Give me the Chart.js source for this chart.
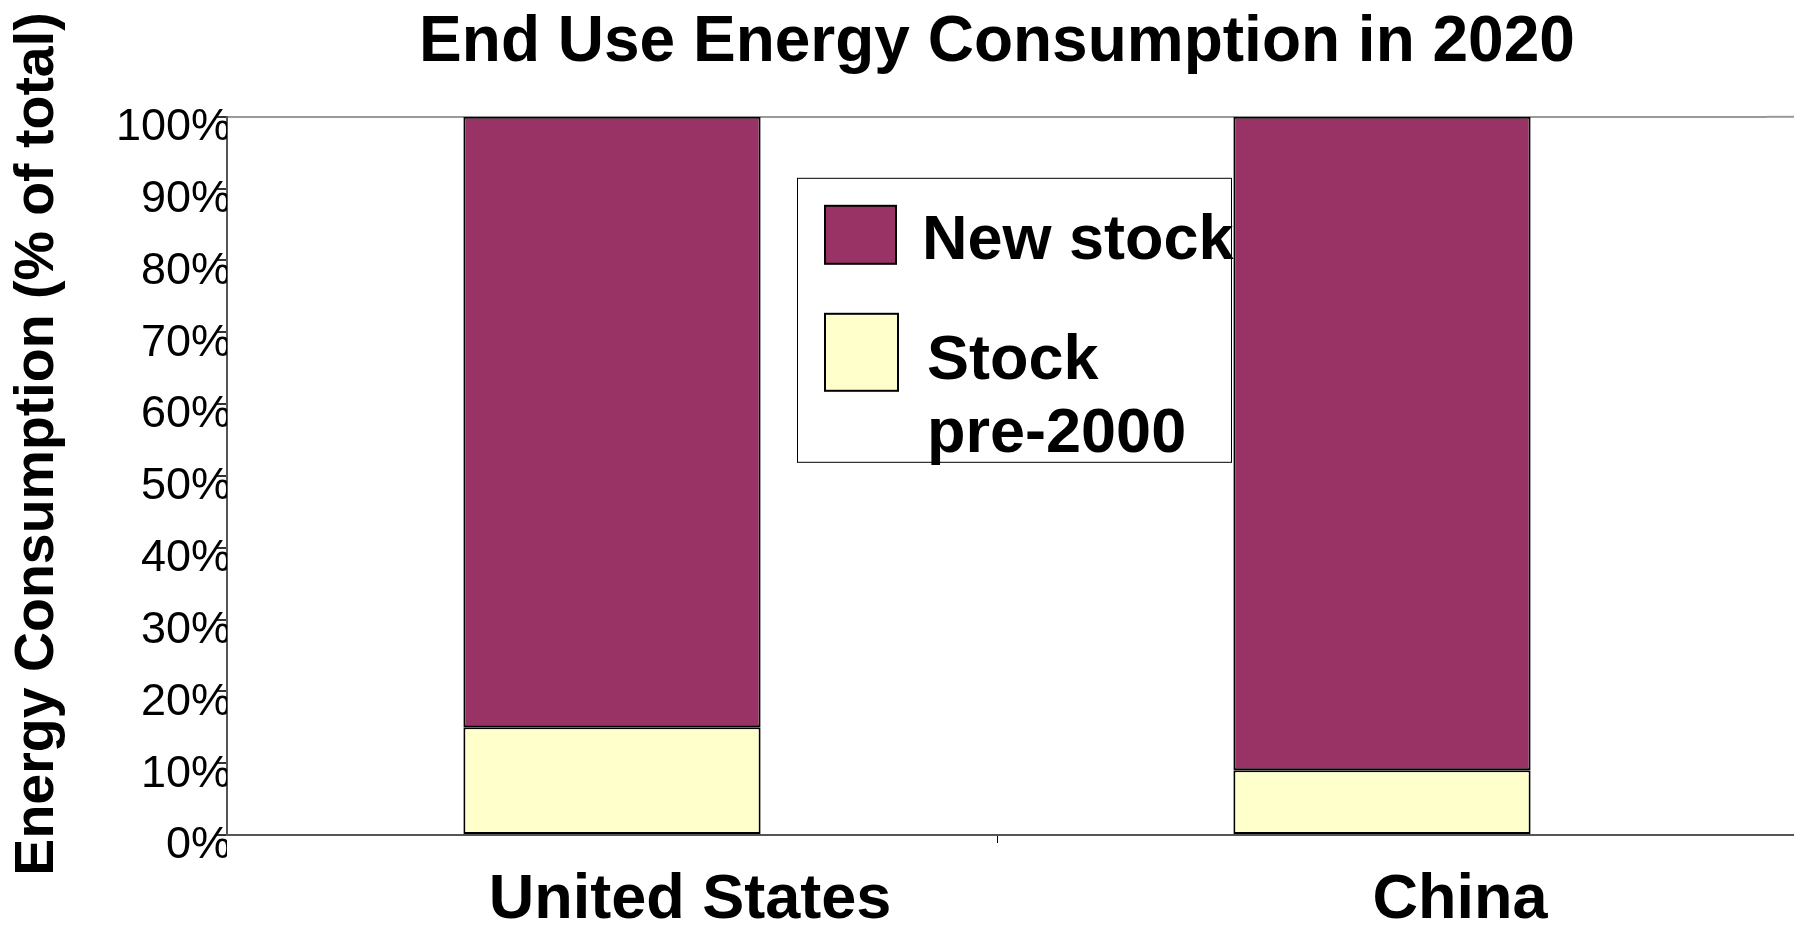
<!DOCTYPE html>
<html>
<head>
<meta charset="utf-8">
<script src="https://cdn.jsdelivr.net/npm/chart.js@4"></script>
<style>
  html, body { margin: 0; padding: 0; background: #fff; }
  #wrap { width: 1794px; height: 928px; }
</style>
</head>
<body>
<div id="wrap"><canvas id="energyChart"></canvas></div>
<script>
// data
const countries = ['United States', 'China'];
const stockPre2000 = [15, 9];
const newStock = [85, 91];
const yTicks = [0, 10, 20, 30, 40, 50, 60, 70, 80, 90, 100];
const yTitle = 'Energy Consumption (% of total)';

const FONT = "'Liberation Sans', Arial, sans-serif";

// legend box inside the plot + y title, placed like the original
const boxLegend = {
    id: 'boxLegend',
    afterDraw(chart) {
        const { ctx, chartArea } = chart;
        const x0 = chartArea.left + 570;
        const y0 = chartArea.top + 61;
        ctx.save();
        ctx.fillStyle = '#fff';
        ctx.fillRect(x0, y0, 434, 284);
        ctx.strokeStyle = '#000';
        ctx.lineWidth = 1;
        ctx.strokeRect(x0 + 0.5, y0 + 0.5, 434, 284);

        const items = chart.data.datasets.slice().reverse();
        const sw = [[28, 28, 71, 58], [28, 136, 73, 77]];
        const lines = [[{ t: items[0].label, x: 125, y: 81 }],
                       [{ t: 'Stock', x: 130, y: 201 }, { t: 'pre-2000', x: 130, y: 274 }]];
        items.forEach((ds, i) => {
            const [sx, sy, w, h] = sw[i];
            ctx.fillStyle = ds.backgroundColor;
            ctx.fillRect(x0 + sx, y0 + sy, w, h);
            ctx.lineWidth = 2;
            ctx.strokeRect(x0 + sx, y0 + sy, w, h);
            ctx.fillStyle = '#000';
            ctx.font = 'bold 63px ' + FONT;
            ctx.textBaseline = 'alphabetic';
            lines[i].forEach(l => ctx.fillText(l.t, x0 + l.x, y0 + l.y));
        });

        // top line and base line run to the right edge
        ctx.strokeStyle = '#999';
        ctx.lineWidth = 2;
        ctx.beginPath();
        ctx.moveTo(chartArea.right, chartArea.top);
        ctx.lineTo(chart.width, chartArea.top);
        ctx.stroke();
        ctx.strokeStyle = '#555';
        ctx.beginPath();
        ctx.moveTo(chartArea.right, chartArea.bottom);
        ctx.lineTo(chart.width, chartArea.bottom);
        ctx.stroke();

        // y axis title (sits a bit above the axis centre in the original)
        ctx.translate(38, 444);
        ctx.rotate(-Math.PI / 2);
        ctx.fillStyle = '#000';
        ctx.font = 'bold 55.5px ' + FONT;
        ctx.textAlign = 'center';
        ctx.textBaseline = 'middle';
        ctx.fillText(yTitle, 0, 0);
        ctx.restore();
    }
};

const chart = new Chart(document.getElementById('energyChart'), {
    type: 'bar',
    data: {
        labels: countries,
        datasets: [{
            label: 'Stock pre-2000',
            data: stockPre2000,
            backgroundColor: '#FFFFCC',
            borderColor: '#000',
            borderWidth: 2,
            borderSkipped: false,
            barPercentage: 0.386,
            categoryPercentage: 1
        }, {
            label: 'New stock',
            data: newStock,
            backgroundColor: '#993366',
            borderColor: '#000',
            borderWidth: 2,
            borderSkipped: false,
            barPercentage: 0.386,
            categoryPercentage: 1
        }]
    },
    options: {
        responsive: true,
        maintainAspectRatio: false,
        animation: false,
        layout: { padding: { left: 0, right: 27, top: 0, bottom: 0 } },
        plugins: {
            legend: { display: false },
            tooltip: { enabled: false },
            title: {
                display: true,
                fullSize: false,
                text: 'End Use Energy Consumption in 2020',
                color: '#000',
                font: { family: FONT, size: 64, weight: 'bold', lineHeight: 1.2 },
                padding: { top: 5, bottom: 35 }
            }
        },
        scales: {
            x: {
                stacked: true,
                afterFit: s => { s.height = 93; },
                border: { color: '#555', width: 2 },
                grid: {
                    drawOnChartArea: false,
                    tickLength: 8,
                    tickColor: c => c.index === 1 ? '#000' : 'rgba(0,0,0,0)'
                },
                ticks: {
                    color: '#000',
                    padding: 20,
                    labelOffset: 78,
                    maxRotation: 0,
                    font: { family: FONT, size: 63, weight: 'bold' }
                }
            },
            y: {
                stacked: true,
                min: 0,
                max: 100,
                afterFit: s => { s.width = 227; },
                afterBuildTicks: s => { s.ticks = yTicks.map(v => ({ value: v })); },
                border: { color: '#555', width: 2 },
                grid: {
                    color: c => c.tick && c.tick.value === 100 ? '#999' : 'rgba(0,0,0,0)',
                    lineWidth: 2,
                    tickLength: 10,
                    tickColor: '#333'
                },
                ticks: {
                    color: '#000',
                    padding: -14,
                    labelOffset: 11,
                    font: { family: FONT, size: 45 },
                    callback: v => v + '%'
                }
            }
        }
    },
    plugins: [boxLegend]
});
</script>
</body>
</html>
